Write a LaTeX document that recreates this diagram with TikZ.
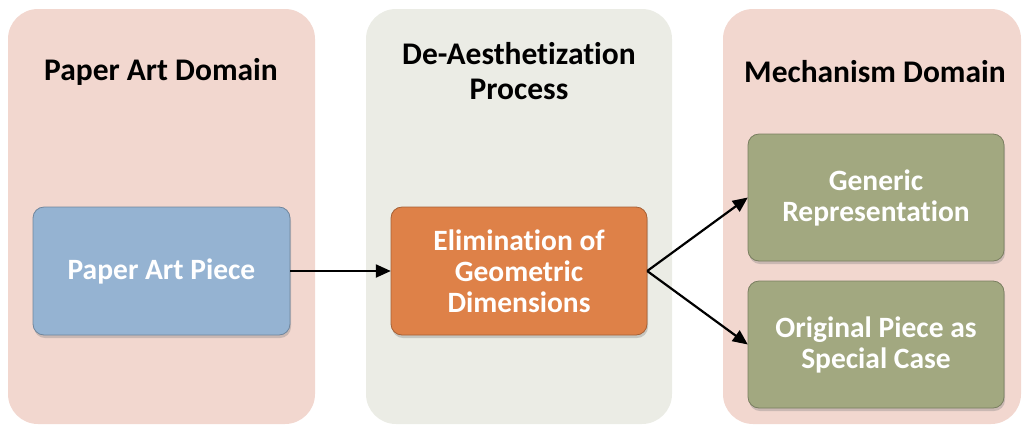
\documentclass[tikz,border=0pt]{standalone}
\usepackage{fontspec}
\setmainfont[Ligatures=NoCommon]{Carlito}
\usetikzlibrary{shadows,arrows.meta}
\definecolor{panelpink}{HTML}{F2D7CF}
\definecolor{panelgrey}{HTML}{EBECE5}
\definecolor{boxblue}{HTML}{95B3D2}
\definecolor{boxorange}{HTML}{DE8148}
\definecolor{boxgreen}{HTML}{A2A880}
\tikzset{
  panel/.style={rounded corners=30pt, draw=none},
  paneltitle/.style={font=\bfseries\fontsize{31.5}{35}\selectfont, align=center, text=black},
  stepbox/.style={rounded corners=11pt, draw=#1!75!black, line width=0.8pt, fill=#1,
    drop shadow={opacity=0.35, shadow xshift=1pt, shadow yshift=-3pt}},
  steplabel/.style={text=white, align=center, inner sep=0pt,
    font=\bfseries\fontsize{29.5}{31}\selectfont},
  flow/.style={-{Triangle[length=15pt,width=13pt]}, line width=2.2pt, black}
}
\begin{document}
\begin{tikzpicture}[x=1pt,y=-1pt]
\useasboundingbox (0,0) rectangle (1022,424);
% background panels
\fill[panel, panelpink] (8,9) rectangle (315,424);
\fill[panel, panelgrey] (366,9) rectangle (672,424);
\fill[panel, panelpink] (723,9) rectangle (1021,424);
% panel titles
\node[paneltitle] (t1) at (161,72) {Paper Art Domain};
\node[paneltitle] (t2) at (519,71) {De-Aesthetization\\Process};
\node[paneltitle] (t3) at (875,72) {Mechanism Domain};
% boxes
\path[stepbox=boxblue] (33,207) rectangle (290,335);
\node[steplabel, minimum width=257pt, minimum height=128pt] (piece) at (161.5,271) {Paper Art Piece};
\path[stepbox=boxorange] (391,207) rectangle (647,335);
\node[steplabel, minimum width=256pt, minimum height=128pt] (elim) at (519,271) {Elimination of\\Geometric\\Dimensions};
\path[stepbox=boxgreen] (748,134) rectangle (1004,261);
\node[steplabel, minimum width=256pt, minimum height=127pt] (gen) at (876,197.5) {Generic\\Representation};
\path[stepbox=boxgreen] (748,281) rectangle (1004,408);
\node[steplabel, minimum width=256pt, minimum height=127pt] (orig) at (876,344.5) {Original Piece as\\Special Case};
% connectors
\draw[flow] (piece.east) -- (elim.west);
\draw[flow] (elim.east) -- (gen.west);
\draw[flow] (elim.east) -- (orig.west);
\end{tikzpicture}
\end{document}
